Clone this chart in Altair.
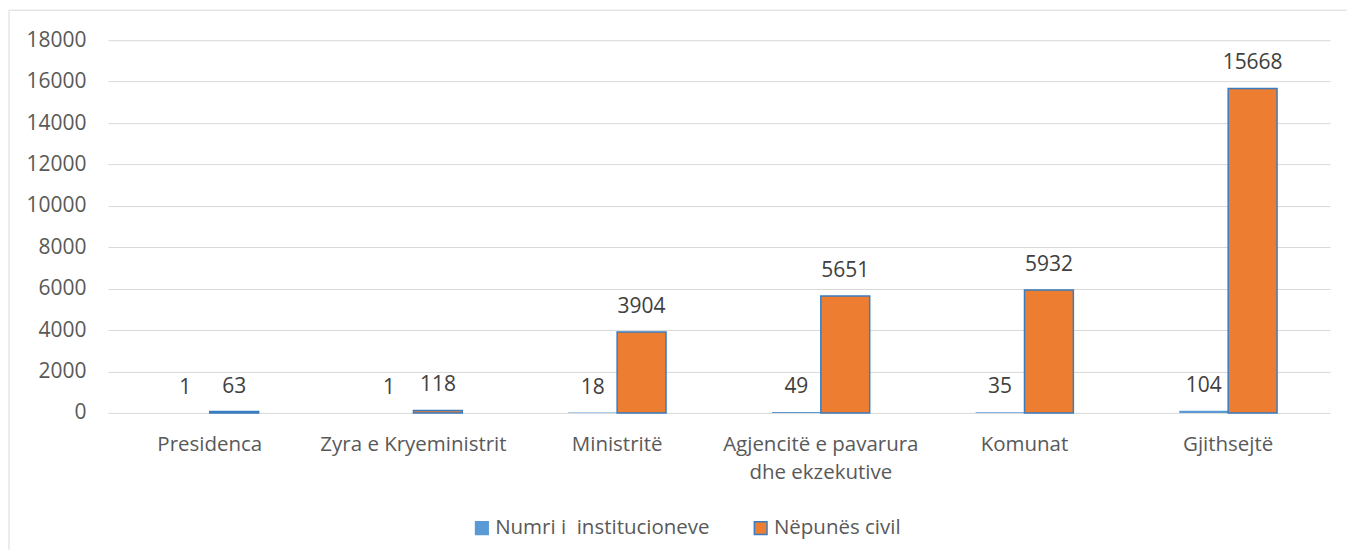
import altair as alt
import pandas as pd

categories = ["Presidenca", "Zyra e Kryeministrit", "Ministritë",
              "Agjencitë e pavarura dhe ekzekutive", "Komunat", "Gjithsejtë"]
institutions = [1, 1, 18, 49, 35, 104]
civil_servants = [63, 118, 3904, 5651, 5932, 15668]
series_names = ["Numri i\u00a0 institucioneve", "Nëpunës civil"]
y_ticks = [0, 2000, 4000, 6000, 8000, 10000, 12000, 14000, 16000, 18000]

rows = []
for c, a, b in zip(categories, institutions, civil_servants):
    rows.append({"category": c, "series": series_names[0], "value": a})
    rows.append({"category": c, "series": series_names[1], "value": b})
df = pd.DataFrame(rows)

FONT = "Open Sans"
AXIS_COLOR = "#595959"
GRID = "#D9D9D9"
STROKE = "#3A7CC0"

label_expr = ("datum.label == 'Agjencitë e pavarura dhe ekzekutive' ? "
              "['Agjencitë e pavarura', 'dhe ekzekutive'] : datum.label")

base = alt.Chart(df).encode(
    x=alt.X("category:N", sort=categories,
            scale=alt.Scale(paddingInner=0.52, paddingOuter=0.26),
            axis=alt.Axis(title=None, labelAngle=0, domain=False, ticks=False,
                          labelFont=FONT, labelFontSize=20.5, labelColor=AXIS_COLOR,
                          labelPadding=22, labelLimit=400, labelOverlap=False,
                          labelLineHeight=28, labelExpr=label_expr)),
    xOffset=alt.XOffset("series:N", sort=series_names,
                        scale=alt.Scale(paddingInner=0, paddingOuter=0)),
    y=alt.Y("value:Q", scale=alt.Scale(domain=[0, 18000], nice=False),
            axis=alt.Axis(title=None, values=y_ticks, format="d", domain=False,
                          ticks=False, grid=True, gridColor=GRID, gridWidth=1,
                          labelFont=FONT, labelFontSize=21, labelColor=AXIS_COLOR,
                          labelPadding=22)),
)

legend = alt.Legend(title=None, orient="none", legendX=364, legendY=478,
                    direction="horizontal", symbolType="square",
                    symbolSize=160, symbolStrokeWidth=1.5, labelFont=FONT,
                    labelFontSize=20.5, labelColor=AXIS_COLOR, labelLimit=400,
                    columnPadding=40, labelOffset=3)

bars = base.mark_bar().encode(
    color=alt.Color("series:N",
                    scale=alt.Scale(domain=series_names, range=["#5B9BD5", "#ED7D31"]),
                    legend=legend),
    stroke=alt.Stroke("series:N",
                      scale=alt.Scale(domain=series_names, range=["#5B9BD5", STROKE]),
                      legend=legend),
    strokeWidth=alt.condition(alt.datum.series == series_names[0],
                              alt.value(0), alt.value(1.5)),
)

labels = base.mark_text(baseline="middle", dy=-25, font=FONT, fontSize=21,
                        color="#404040").encode(text="value:Q")

one = pd.DataFrame({"a": [0]})
border_top = alt.Chart(one).mark_rule(color=GRID, strokeWidth=1).encode(
    x=alt.value(-99), x2=alt.value(1240), y=alt.value(-30))
border_left = alt.Chart(one).mark_rule(color=GRID, strokeWidth=1).encode(
    x=alt.value(-99), y=alt.value(-30), y2=alt.value(510))

chart = alt.layer(border_top, border_left, bars, labels).properties(
    width=1223, height=373,
    padding={"left": 0, "top": 1, "right": 0, "bottom": 0},
).configure_view(stroke=None)

chart.save("out.html", embed_options={"renderer": "svg", "actions": False})
